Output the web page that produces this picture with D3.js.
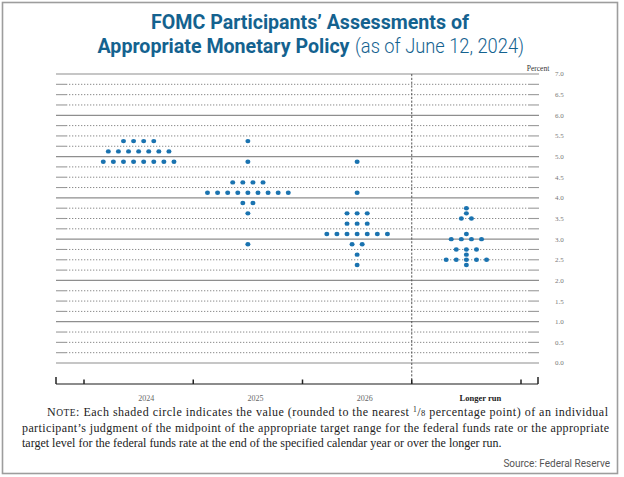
<!DOCTYPE html>
<html><head><meta charset="utf-8">
<script src="https://cdn.jsdelivr.net/npm/d3@7"></script>
<style>html,body{margin:0;padding:0;background:#fff;}svg{display:block;}</style>
</head><body>
<svg id="chart" width="624" height="477"></svg>
<script>
// ---- data ----
const categories = ["2024", "2025", "2026", "Longer run"];
// [midpoint rate, number of participants]
const dots2024 = [[5.375, 4], [5.125, 7], [4.875, 8]];
const dots2025 = [[5.375, 1], [4.875, 1], [4.375, 4], [4.125, 9], [3.875, 2], [3.625, 1], [2.875, 1]];
const dots2026 = [[4.875, 1], [4.125, 1], [3.625, 3], [3.375, 3], [3.125, 7], [2.875, 2], [2.625, 1], [2.375, 1]];
const dotsLongerRun = [[3.75, 1], [3.625, 1], [3.5, 2], [3.125, 1], [3.0, 4], [2.75, 3], [2.625, 1], [2.5, 5], [2.375, 1]];
const yTickLabels = ["0.0", "0.5", "1.0", "1.5", "2.0", "2.5", "3.0", "3.5", "4.0", "4.5", "5.0", "5.5", "6.0", "6.5", "7.0"];
const titleLine1 = "FOMC Participants’ Assessments of";
const titleLine2 = "Appropriate Monetary Policy";
const titleDate = "(as of June 12, 2024)";
const sourceText = "Source: Federal Reserve";

const dotSeries = [dots2024, dots2025, dots2026, dotsLongerRun];

// ---- layout ----
const svg = d3.select("#chart");
const blue = "#1a73b0";
const titleColor = "#14628f";
const gridLeft = 56, gridRight = 539;
const x = d3.scaleBand().domain(categories).range([84, 521]).padding(0);
const y = d3.scaleLinear().domain([0, 7]).range([363, 74]);
const axisY = 384;

// border
svg.append("rect").attr("x", 2.5).attr("y", 2.5).attr("width", 615).attr("height", 471)
  .attr("fill", "none").attr("stroke", "#9d9d9d").attr("stroke-width", 1.6);

// title
svg.append("text").attr("x", 151).attr("y", 29).attr("textLength", 318).attr("lengthAdjust", "spacingAndGlyphs")
  .attr("font-family", "Roboto").attr("font-weight", 700).attr("font-size", 20).attr("fill", titleColor).text(titleLine1);
svg.append("text").attr("x", 97.5).attr("y", 53).attr("textLength", 252).attr("lengthAdjust", "spacingAndGlyphs")
  .attr("font-family", "Roboto").attr("font-weight", 700).attr("font-size", 20).attr("fill", titleColor).text(titleLine2);
svg.append("text").attr("x", 355).attr("y", 53).attr("textLength", 169).attr("lengthAdjust", "spacingAndGlyphs")
  .attr("font-family", "Roboto").attr("font-weight", 300).attr("font-size", 20).attr("fill", titleColor).text(titleDate);

// gridlines
const gridVals = d3.range(0, 7.0001, 0.25);
const grid = svg.append("g");
gridVals.forEach(v => {
  const yy = y(v);
  if (Math.abs(v - Math.round(v)) < 1e-9) {
    grid.append("line").attr("x1", gridLeft).attr("x2", gridRight).attr("y1", yy).attr("y2", yy)
      .attr("stroke", "#8e8e8e").attr("stroke-width", 1.2);
  } else {
    grid.append("line").attr("x1", gridLeft).attr("x2", 66).attr("y1", yy).attr("y2", yy)
      .attr("stroke", "#9a9a9a").attr("stroke-width", 1.1);
    grid.append("line").attr("x1", 66).attr("x2", 528).attr("y1", yy).attr("y2", yy)
      .attr("stroke", "#8a8a8a").attr("stroke-width", 1).attr("stroke-dasharray", "1.3,1.7");
    grid.append("line").attr("x1", 528).attr("x2", gridRight).attr("y1", yy).attr("y2", yy)
      .attr("stroke", "#9a9a9a").attr("stroke-width", 1.1);
  }
});

// right-side tick labels
svg.append("g").selectAll("text").data(yTickLabels).join("text")
  .attr("x", 555).attr("y", d => y(+d)).attr("dy", "0.35em")
  .attr("font-family", "Liberation Serif").attr("font-size", 7).attr("fill", "#777").text(d => d);
svg.append("text").attr("x", 538).attr("y", 71).attr("text-anchor", "middle")
  .attr("font-family", "Liberation Serif").attr("font-size", 7.5).attr("fill", "#333").text("Percent");

// vertical dashed separator before longer run
svg.append("line").attr("x1", x("Longer run")).attr("x2", x("Longer run")).attr("y1", y(7)).attr("y2", axisY)
  .attr("stroke", "#555").attr("stroke-width", 1).attr("stroke-dasharray", "2.2,1.6");

// bottom axis
const ax = svg.append("g");
ax.append("line").attr("x1", gridLeft).attr("x2", gridRight - 1).attr("y1", axisY).attr("y2", axisY)
  .attr("stroke", "#666").attr("stroke-width", 1.3);
[gridLeft, gridRight - 1].forEach(xx => ax.append("line").attr("x1", xx).attr("x2", xx)
  .attr("y1", axisY - 7).attr("y2", axisY).attr("stroke", "#222").attr("stroke-width", 1.5));
const innerTicks = categories.map(c => x(c)).concat([x.range()[1]]);
innerTicks.forEach(xx => ax.append("line").attr("x1", xx).attr("x2", xx)
  .attr("y1", axisY - 4.5).attr("y2", axisY).attr("stroke", "#222").attr("stroke-width", 1.5));
ax.selectAll("text.cat").data(categories).join("text").attr("class", "cat")
  .attr("x", (d, i) => x(d) + x.bandwidth() / 2 + (i === categories.length - 1 ? 14 : 7.5))
  .attr("y", 401).attr("text-anchor", "middle")
  .attr("font-family", "Liberation Serif")
  .attr("font-size", (d, i) => i === categories.length - 1 ? 8.5 : 8)
  .attr("font-weight", (d, i) => i === categories.length - 1 ? 700 : 400)
  .attr("fill", (d, i) => i === categories.length - 1 ? "#222" : "#666").text(d => d);

// dots
const dotStep = 10.1;
const dotsG = svg.append("g");
categories.forEach((c, ci) => {
  const cx = x(c) + x.bandwidth() / 2;
  dotSeries[ci].forEach(([v, n]) => {
    for (let i = 0; i < n; i++) {
      dotsG.append("ellipse").attr("cx", cx + (i - (n - 1) / 2) * dotStep).attr("cy", y(v))
        .attr("rx", 2.5).attr("ry", 2.2).attr("fill", blue);
    }
  });
});

// note
const noteFont = "Liberation Serif";
const n1 = svg.append("text").attr("x", 47).attr("y", 416).attr("textLength", 561).attr("lengthAdjust", "spacing")
  .attr("font-family", noteFont).attr("font-size", 12).attr("fill", "#222");
n1.append("tspan").text("N");
n1.append("tspan").attr("font-size", 9.5).text("OTE");
n1.append("tspan").text(": Each shaded circle indicates the value (rounded to the nearest ");
n1.append("tspan").attr("font-size", 7.5).attr("dy", -4).text("1");
n1.append("tspan").attr("dy", 4).text("/");
n1.append("tspan").attr("font-size", 8.5).text("8");
n1.append("tspan").text(" percentage point) of an individual");
svg.append("text").attr("x", 22).attr("y", 432).attr("textLength", 587).attr("lengthAdjust", "spacing")
  .attr("font-family", noteFont).attr("font-size", 12).attr("fill", "#222")
  .text("participant’s judgment of the midpoint of the appropriate target range for the federal funds rate or the appropriate");
svg.append("text").attr("x", 22).attr("y", 447)
  .attr("font-family", noteFont).attr("font-size", 12).attr("fill", "#222")
  .text("target level for the federal funds rate at the end of the specified calendar year or over the longer run.");

svg.append("text").attr("x", 610).attr("y", 467).attr("text-anchor", "end")
  .attr("font-family", "Roboto").attr("font-size", 10).attr("fill", "#555").text(sourceText);
</script>
</body></html>
